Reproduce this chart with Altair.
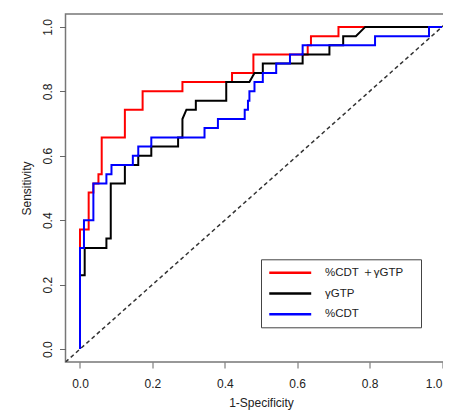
import altair as alt
import pandas as pd

SERIES = ["%CDT ＋γGTP", "γGTP", "%CDT"]
COLORS = ["#ff0000", "#000000", "#0000ff"]

RED_X = [0, 0, 0.024, 0.024, 0.037, 0.037, 0.051, 0.051, 0.060, 0.060, 0.124, 0.124,
         0.173, 0.173, 0.283, 0.283, 0.420, 0.420, 0.479, 0.479, 0.629, 0.629, 0.638,
         0.638, 0.714, 0.714, 1.0]
RED_Y = [0, 0.371, 0.371, 0.486, 0.486, 0.514, 0.514, 0.543, 0.543, 0.657, 0.657, 0.743,
         0.743, 0.800, 0.800, 0.829, 0.829, 0.857, 0.857, 0.914, 0.914, 0.943, 0.943,
         0.971, 0.971, 1.0, 1.0]

BLACK_X = [0, 0, 0.013, 0.013, 0.073, 0.073, 0.085, 0.085, 0.124, 0.124, 0.161, 0.161,
           0.197, 0.197, 0.271, 0.271, 0.283, 0.283, 0.294, 0.320, 0.320, 0.404, 0.404,
           0.468, 0.482, 0.505, 0.505, 0.615, 0.615, 0.689, 0.689, 0.727, 0.727, 0.762,
           0.788, 1.0]
BLACK_Y = [0, 0.229, 0.229, 0.314, 0.314, 0.343, 0.343, 0.514, 0.514, 0.571, 0.571, 0.600,
           0.600, 0.629, 0.629, 0.657, 0.657, 0.714, 0.743, 0.743, 0.771, 0.771, 0.829,
           0.829, 0.857, 0.857, 0.886, 0.886, 0.914, 0.914, 0.943, 0.943, 0.971, 0.971,
           1.0, 1.0]

BLUE_X = [0, 0, 0.011, 0.011, 0.037, 0.037, 0.073, 0.073, 0.087, 0.087, 0.146, 0.146,
          0.161, 0.161, 0.197, 0.197, 0.344, 0.344, 0.381, 0.381, 0.455, 0.455, 0.464,
          0.464, 0.468, 0.468, 0.482, 0.482, 0.505, 0.505, 0.542, 0.542, 0.580, 0.580,
          0.615, 0.615, 0.815, 0.815, 0.964, 0.964, 1.0]
BLUE_Y = [0, 0.314, 0.314, 0.400, 0.400, 0.514, 0.514, 0.543, 0.543, 0.571, 0.571, 0.600,
          0.600, 0.629, 0.629, 0.657, 0.657, 0.686, 0.686, 0.714, 0.714, 0.743, 0.743,
          0.771, 0.771, 0.800, 0.800, 0.829, 0.829, 0.857, 0.857, 0.886, 0.886, 0.914,
          0.914, 0.943, 0.943, 0.971, 0.971, 1.0, 1.0]

DIAG = [-0.04, 1.04]
TICKS = [0.0, 0.2, 0.4, 0.6, 0.8, 1.0]

rows = []
for name, xs, ys in zip(SERIES, [RED_X, BLACK_X, BLUE_X], [RED_Y, BLACK_Y, BLUE_Y]):
    for i, (xv, yv) in enumerate(zip(xs, ys)):
        rows.append({"series": name, "x": xv, "y": yv, "order": i})
df = pd.DataFrame(rows)
diag = pd.DataFrame({"x": DIAG, "y": DIAG})

FONT = "Liberation Sans"
xscale = alt.Scale(domain=[-0.04, 1.04], nice=False, zero=False)
yscale = alt.Scale(domain=[-0.04, 1.04], nice=False, zero=False)

xaxis = alt.Axis(title="1-Specificity", values=TICKS, format=".1f", grid=False,
                 domain=False, tickSize=6, tickColor="#666", tickWidth=1,
                 labelAlign=alt.condition("datum.value >= 1", alt.value("right"), alt.value("center")),
                 labelPadding=10, titlePadding=8, labelFontSize=12, titleFontSize=12,
                 labelFont=FONT, titleFont=FONT, labelColor="#222", titleColor="#222",
                 titleFontWeight="normal")
yaxis = alt.Axis(title="Sensitivity", values=TICKS, format=".1f", grid=False,
                 domain=False, tickSize=6, tickColor="#666", tickWidth=1,
                 labelAngle=270, labelAlign="center", labelBaseline="bottom",
                 labelPadding=5, titlePadding=8.5, labelFontSize=12, titleFontSize=12,
                 labelFont=FONT, titleFont=FONT, labelColor="#222", titleColor="#222",
                 titleFontWeight="normal")

dline = alt.Chart(diag).mark_line(color="#333", strokeWidth=1.5, strokeDash=[4, 3],
                                  clip=True).encode(
    x=alt.X("x:Q", scale=xscale, axis=xaxis),
    y=alt.Y("y:Q", scale=yscale, axis=yaxis),
)

label_expr = ("datum.value == '" + SERIES[0] + "' ? datum.label + '\u00a0\u00a0\u00a0\u200b'"
              " : datum.label")

lines = alt.Chart(df).mark_line(strokeWidth=2, clip=True, interpolate="linear").encode(
    x=alt.X("x:Q", scale=xscale, axis=xaxis),
    y=alt.Y("y:Q", scale=yscale, axis=yaxis),
    color=alt.Color("series:N", scale=alt.Scale(domain=SERIES, range=COLORS),
                    sort=SERIES,
                    legend=alt.Legend(title=None, orient="none", legendX=195.5, legendY=245.3,
                                      symbolType="M-1,0H7", symbolSize=110,
                                      symbolStrokeWidth=2.5, labelFontSize=11.5,
                                      labelFont=FONT, labelColor="#222", labelOffset=44,
                                      labelExpr=label_expr,
                                      padding=7, strokeColor="#444", rowPadding=8.7)),
    order="order:Q",
)

chart = alt.layer(dline, lines).properties(
    width=391, height=348,
    autosize=alt.AutoSizeParams(type="none"),
    padding={"left": 57.5, "top": 6, "right": -13.5, "bottom": 49},
).configure_view(stroke="#777", strokeWidth=1.5)

chart.save("out.html", embed_options={"renderer": "svg", "actions": False})
